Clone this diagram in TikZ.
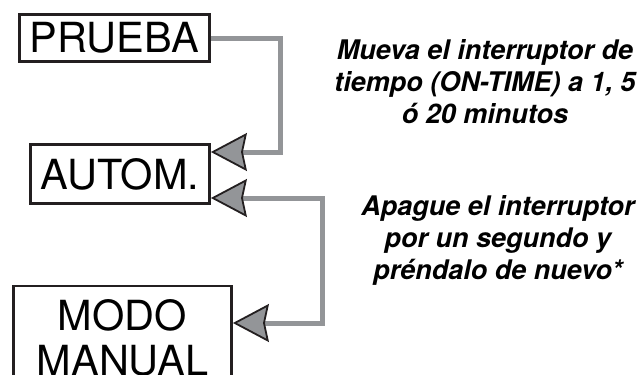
\documentclass[tikz,border=0pt]{standalone}
\usepackage{fontspec}
\setmainfont{TeX Gyre Heros}
\usetikzlibrary{arrows.meta,positioning}
\definecolor{wiregray}{HTML}{939598}
\definecolor{inkblack}{HTML}{231F20}
\tikzset{>={Stealth[length=36pt,width=38pt,inset=4pt,line width=1.8pt,color=inkblack,fill=wiregray]}}
\tikzset{
  modebox/.style={draw=inkblack,line width=2.8pt,fill=white,inner sep=0pt,align=center,
    font=\fontsize{41.5}{45}\selectfont},
  wire/.style={draw=wiregray,line width=5pt},
  hint/.style={align=center,font=\fontsize{27}{32}\selectfont\bfseries\itshape}
}

\begin{document}
\begin{tikzpicture}[x=1pt,y=-1pt]

  \newcommand\Wx{322}
  \useasboundingbox (0,0) rectangle (638,375);

  \node[modebox,minimum width=190pt,minimum height=47pt] (prueba) at (114.5,38) {PRUEBA};
  \node[modebox,minimum width=179pt,minimum height=59pt] (autom) at (120,174) {AUTOM.};
  \node[modebox,minimum width=218pt,minimum height=104pt] (manual) at (122.5,338) {MODO\\MANUAL};

  \draw[wire,->] (prueba.east) -- ++(70,0) |- ([yshift=22pt]autom.east);
  \draw[wire,<->] ([yshift=-24pt]autom.east) -- ++(112,0) |- ([yshift=15pt]manual.east);

  \node[hint] (mueva) at (485,82) {Mueva el interruptor de\\tiempo (ON-TIME) a 1, 5\\ó 20 minutos};
  \node[hint] (apague) at (498,240) {Apague el interruptor\\por un segundo y\\préndalo de nuevo*};

\end{tikzpicture}
\end{document}
